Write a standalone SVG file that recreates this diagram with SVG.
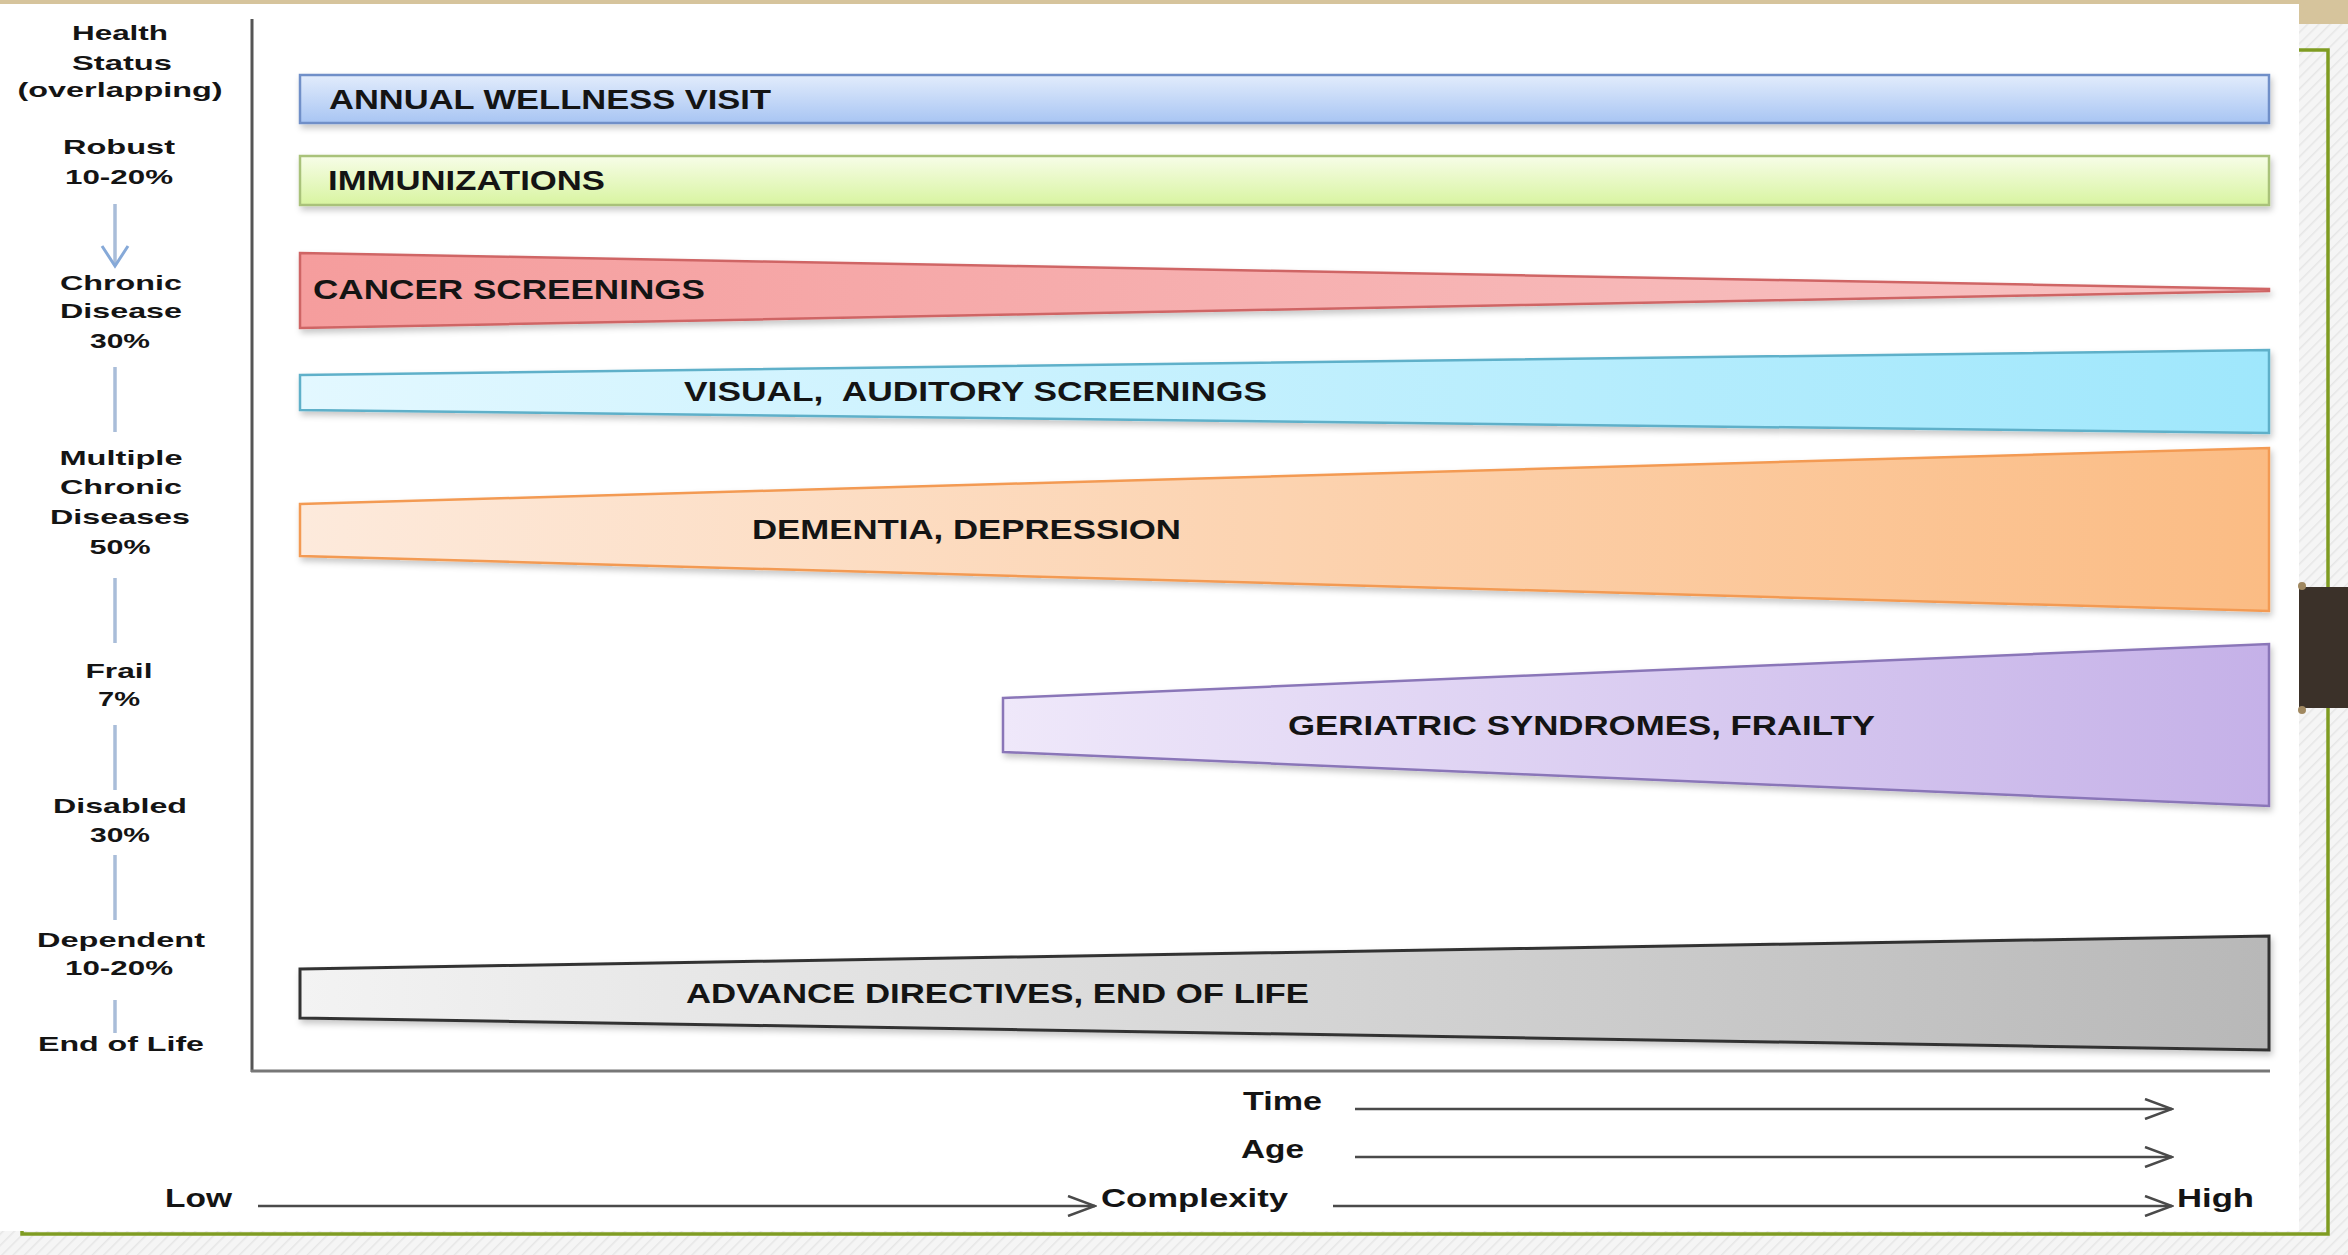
<svg xmlns="http://www.w3.org/2000/svg" width="2348" height="1255" viewBox="0 0 2348 1255">
<defs>
<style>
.lbl{font-family:"Liberation Sans",Arial,sans-serif;font-weight:bold;fill:#141414;}
.side{font-size:21px;text-anchor:middle;}
.bar{font-size:28px;}
.ax{font-size:25px;}
.vline{stroke:#a9bdd9;stroke-width:3.5;fill:none;}
.arr{stroke:#4a4a4a;stroke-width:2.5;fill:none;}
</style>
<pattern id="hatch" width="8" height="8" patternUnits="userSpaceOnUse" patternTransform="rotate(45)">
<rect width="8" height="8" fill="#f5f5f5"/>
<line x1="0" y1="0" x2="0" y2="8" stroke="#e6e6e6" stroke-width="3"/>
</pattern>
<filter id="sh" x="-5%" y="-30%" width="110%" height="170%">
<feDropShadow dx="2" dy="4" stdDeviation="3" flood-color="#000" flood-opacity="0.22"/>
</filter>
<linearGradient id="gBlue" x1="0" y1="0" x2="0" y2="1"><stop offset="0" stop-color="#e2ecfc"/><stop offset="1" stop-color="#a8c5f3"/></linearGradient>
<linearGradient id="gGreen" x1="0" y1="0" x2="0" y2="1"><stop offset="0" stop-color="#f7fde8"/><stop offset="1" stop-color="#d8f4a0"/></linearGradient>
<linearGradient id="gRed" x1="0" y1="0" x2="1" y2="0"><stop offset="0" stop-color="#f59d9d"/><stop offset="1" stop-color="#f8c4c4"/></linearGradient>
<linearGradient id="gCyan" x1="0" y1="0" x2="1" y2="0"><stop offset="0" stop-color="#e3f8ff"/><stop offset="1" stop-color="#9fe7fc"/></linearGradient>
<linearGradient id="gOrange" x1="0" y1="0" x2="1" y2="0"><stop offset="0" stop-color="#fdeadc"/><stop offset="1" stop-color="#fbbc84"/></linearGradient>
<linearGradient id="gPurple" x1="0" y1="0" x2="1" y2="0"><stop offset="0" stop-color="#efe8fa"/><stop offset="1" stop-color="#c5b1e8"/></linearGradient>
<linearGradient id="gGray" x1="0" y1="0" x2="1" y2="0"><stop offset="0" stop-color="#f3f3f3"/><stop offset="1" stop-color="#b8b8b8"/></linearGradient>
<marker id="ah" viewBox="0 0 30 22" refX="28" refY="11" markerWidth="30" markerHeight="22" markerUnits="userSpaceOnUse" orient="auto">
<path d="M1,1 L28,11 L1,21" fill="none" stroke="#4a4a4a" stroke-width="2.5"/>
</marker>
<marker id="ahb" viewBox="0 0 24 30" refX="21" refY="15" markerWidth="24" markerHeight="30" markerUnits="userSpaceOnUse" orient="auto">
<path d="M1,2 L21,15 L1,28" fill="none" stroke="#86a9d8" stroke-width="3"/>
</marker>
</defs>

<!-- background -->
<rect x="0" y="0" width="2348" height="1255" fill="url(#hatch)"/>
<rect x="0" y="0" width="2348" height="24" fill="#d6c49c"/>
<rect x="22" y="50" width="2306" height="1184" fill="none" stroke="#7f9c22" stroke-width="3.5"/>
<rect x="0" y="4" width="2299" height="1227" fill="#ffffff"/>
<rect x="2299" y="587" width="49" height="121" fill="#3b3129"/>
<circle cx="2302" cy="586" r="4" fill="#a08860"/>
<circle cx="2302" cy="710" r="4" fill="#a08860"/>

<!-- axes -->
<g id="axes">
<line x1="252" y1="19" x2="252" y2="1072" stroke="#555" stroke-width="3"/>
<line x1="251" y1="1071" x2="2270" y2="1071" stroke="#777" stroke-width="3"/>
</g>

<!-- bars -->
<g id="annual-wellness-visit">
<rect x="300" y="75" width="1969" height="48" fill="url(#gBlue)" stroke="#6f8fc8" stroke-width="2.5" filter="url(#sh)"/>
<text class="lbl bar" x="329" y="109" textLength="442" lengthAdjust="spacingAndGlyphs">ANNUAL WELLNESS VISIT</text>
</g>
<g id="immunizations">
<rect x="300" y="156" width="1969" height="49" fill="url(#gGreen)" stroke="#a9c27a" stroke-width="2.5" filter="url(#sh)"/>
<text class="lbl bar" x="328" y="190" textLength="277" lengthAdjust="spacingAndGlyphs">IMMUNIZATIONS</text>
</g>
<g id="cancer-screenings">
<polygon points="300,253 2269,289 2269,291 300,328" fill="url(#gRed)" stroke="#cf6565" stroke-width="2.5" filter="url(#sh)"/>
<text class="lbl bar" x="313" y="299" textLength="392" lengthAdjust="spacingAndGlyphs">CANCER SCREENINGS</text>
</g>
<g id="visual-auditory-screenings">
<polygon points="300,375 2269,350 2269,433 300,410" fill="url(#gCyan)" stroke="#5eb0c9" stroke-width="2.5" filter="url(#sh)"/>
<text class="lbl bar" x="684" y="401" textLength="583" lengthAdjust="spacingAndGlyphs" xml:space="preserve">VISUAL,  AUDITORY SCREENINGS</text>
</g>
<g id="dementia-depression">
<polygon points="300,504 2269,448 2269,611 300,556" fill="url(#gOrange)" stroke="#f39a52" stroke-width="2.5" filter="url(#sh)"/>
<text class="lbl bar" x="752" y="539" textLength="429" lengthAdjust="spacingAndGlyphs">DEMENTIA, DEPRESSION</text>
</g>
<g id="geriatric-syndromes-frailty">
<polygon points="1003,698 2269,644 2269,806 1003,752" fill="url(#gPurple)" stroke="#8a76b8" stroke-width="2.5" filter="url(#sh)"/>
<text class="lbl bar" x="1288" y="735" textLength="587" lengthAdjust="spacingAndGlyphs">GERIATRIC SYNDROMES, FRAILTY</text>
</g>
<g id="advance-directives-end-of-life">
<polygon points="300,969 2269,936 2269,1050 300,1018" fill="url(#gGray)" stroke="#333" stroke-width="3" filter="url(#sh)"/>
<text class="lbl bar" x="686" y="1003" textLength="623" lengthAdjust="spacingAndGlyphs">ADVANCE DIRECTIVES, END OF LIFE</text>
</g>

<!-- health status column -->
<g id="health-status">
<text class="lbl side" x="120" y="40" textLength="96" lengthAdjust="spacingAndGlyphs">Health</text>
<text class="lbl side" x="122" y="70" textLength="100" lengthAdjust="spacingAndGlyphs">Status</text>
<text class="lbl side" x="120" y="97" textLength="205" lengthAdjust="spacingAndGlyphs">(overlapping)</text>
</g>
<g id="robust">
<text class="lbl side" x="119" y="154" textLength="112" lengthAdjust="spacingAndGlyphs">Robust</text>
<text class="lbl side" x="119" y="184" textLength="108" lengthAdjust="spacingAndGlyphs">10-20%</text>
</g>
<g id="chronic-disease">
<text class="lbl side" x="121" y="290" textLength="122" lengthAdjust="spacingAndGlyphs">Chronic</text>
<text class="lbl side" x="121" y="318" textLength="122" lengthAdjust="spacingAndGlyphs">Disease</text>
<text class="lbl side" x="120" y="348" textLength="60" lengthAdjust="spacingAndGlyphs">30%</text>
</g>
<g id="multiple-chronic-diseases">
<text class="lbl side" x="121" y="465" textLength="123" lengthAdjust="spacingAndGlyphs">Multiple</text>
<text class="lbl side" x="121" y="494" textLength="122" lengthAdjust="spacingAndGlyphs">Chronic</text>
<text class="lbl side" x="120" y="524" textLength="140" lengthAdjust="spacingAndGlyphs">Diseases</text>
<text class="lbl side" x="120" y="554" textLength="61" lengthAdjust="spacingAndGlyphs">50%</text>
</g>
<g id="frail">
<text class="lbl side" x="119" y="678" textLength="67" lengthAdjust="spacingAndGlyphs">Frail</text>
<text class="lbl side" x="119" y="706" textLength="42" lengthAdjust="spacingAndGlyphs">7%</text>
</g>
<g id="disabled">
<text class="lbl side" x="120" y="813" textLength="134" lengthAdjust="spacingAndGlyphs">Disabled</text>
<text class="lbl side" x="120" y="842" textLength="60" lengthAdjust="spacingAndGlyphs">30%</text>
</g>
<g id="dependent">
<text class="lbl side" x="121" y="947" textLength="168" lengthAdjust="spacingAndGlyphs">Dependent</text>
<text class="lbl side" x="119" y="975" textLength="108" lengthAdjust="spacingAndGlyphs">10-20%</text>
</g>
<g id="end-of-life">
<text class="lbl side" x="121" y="1051" textLength="166" lengthAdjust="spacingAndGlyphs">End of Life</text>
</g>

<!-- axis labels -->
<g id="time-label"><text class="lbl ax" x="1243" y="1110" textLength="79" lengthAdjust="spacingAndGlyphs">Time</text></g>
<g id="age-label"><text class="lbl ax" x="1241" y="1158" textLength="63" lengthAdjust="spacingAndGlyphs">Age</text></g>
<g id="complexity-label"><text class="lbl ax" x="1101" y="1207" textLength="187" lengthAdjust="spacingAndGlyphs">Complexity</text></g>
<g id="low-label"><text class="lbl ax" x="165" y="1207" textLength="67" lengthAdjust="spacingAndGlyphs">Low</text></g>
<g id="high-label"><text class="lbl ax" x="2177" y="1207" textLength="77" lengthAdjust="spacingAndGlyphs">High</text></g>

<!-- connectors -->
<g id="connectors">
<line class="vline" x1="115" y1="204" x2="115" y2="266" marker-end="url(#ahb)"/>
<line class="vline" x1="115" y1="367" x2="115" y2="432"/>
<line class="vline" x1="115" y1="578" x2="115" y2="643"/>
<line class="vline" x1="115" y1="725" x2="115" y2="790"/>
<line class="vline" x1="115" y1="855" x2="115" y2="920"/>
<line class="vline" x1="115" y1="1000" x2="115" y2="1033"/>
<line class="arr" x1="1355" y1="1109" x2="2172" y2="1109" marker-end="url(#ah)"/>
<line class="arr" x1="1355" y1="1157" x2="2172" y2="1157" marker-end="url(#ah)"/>
<line class="arr" x1="258" y1="1206" x2="1095" y2="1206" marker-end="url(#ah)"/>
<line class="arr" x1="1333" y1="1206" x2="2172" y2="1206" marker-end="url(#ah)"/>
</g>
</svg>
